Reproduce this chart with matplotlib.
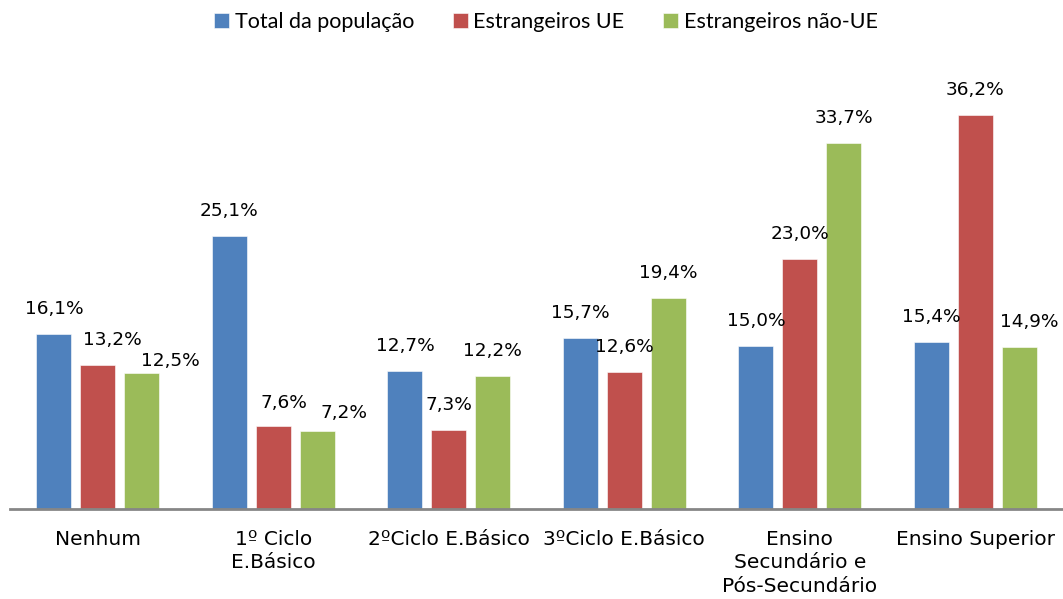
import matplotlib
matplotlib.use("Agg")
import matplotlib.pyplot as plt
import numpy as np

categories = ["Nenhum", "1º Ciclo\nE.Básico", "2ºCiclo E.Básico", "3ºCiclo E.Básico",
              "Ensino\nSecundário e\nPós-Secundário", "Ensino Superior"]
series_names = ["Total da população", "Estrangeiros UE", "Estrangeiros não-UE"]
total_pop = [16.1, 25.1, 12.7, 15.7, 15.0, 15.4]
estr_ue = [13.2, 7.6, 7.3, 12.6, 23.0, 36.2]
estr_nao_ue = [12.5, 7.2, 12.2, 19.4, 33.7, 14.9]

colors = ["#4F81BD", "#C0504D", "#9BBB59"]
# label pixel offsets (dx, rise above bar top) where labels were shifted to avoid overlaps
label_shift = {(0, 1): (15, 25), (0, 2): (29, 12), (1, 1): (11, 23), (1, 2): (27, 18), (5, 2): (10, 25)}

W, H = 1063, 599
fig = plt.figure(figsize=(W / 100, H / 100), dpi=100)
ax = fig.add_axes([10 / W, 90 / H, (1063 - 10) / W, 435 / H])

x = np.arange(len(categories))
width = 0.2
step = 0.25
all_series = [total_pop, estr_ue, estr_nao_ue]
handles = []
for s, (vals, col, name) in enumerate(zip(all_series, colors, series_names)):
    pos = x + (s - 1) * step
    bars = ax.bar(pos, vals, width=width, color=col, label=name, edgecolor="white", linewidth=0.4)
    handles.append(bars)
    for i, (p, v) in enumerate(zip(pos, vals)):
        dx, up = label_shift.get((i, s), (0, 25))
        ax.annotate(f"{v:.1f}%".replace(".", ","), xy=(p, v), xytext=(dx, up),
                    textcoords="offset pixels", ha="center", va="center",
                    fontsize=13.3, family="DejaVu Sans", color="#000000")

ax.set_xlim(-0.5, len(categories) - 0.5)
ax.set_ylim(0, 40)
for sp in ["top", "right", "left"]:
    ax.spines[sp].set_visible(False)
ax.spines["bottom"].set_color("#868686")
ax.spines["bottom"].set_linewidth(2)
ax.set_yticks([])
ax.set_xticks(x)
ax.set_xticklabels(categories, fontsize=14.5, family="DejaVu Sans", linespacing=1.3)
ax.tick_params(axis="x", length=0, pad=15)

fig.legend(handles=handles, labels=series_names, loc="center", bbox_to_anchor=(546 / W, 1 - 22 / H),
           ncol=3, frameon=False, prop={"family": "Lato", "size": 15.5},
           handlelength=0.7, handleheight=0.7, handletextpad=0.25, columnspacing=1.8)

fig.savefig("out.png", dpi=100)
